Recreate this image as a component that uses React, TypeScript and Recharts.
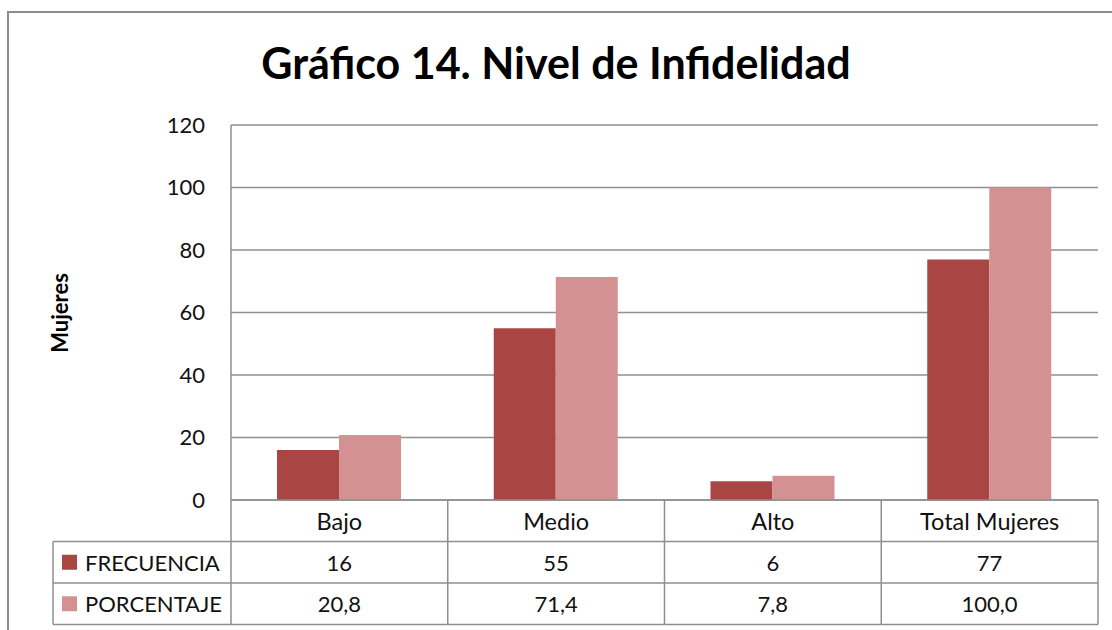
import React from "react";
import { BarChart, Bar, XAxis, YAxis, CartesianGrid } from "recharts";

const categorias = ["Bajo", "Medio", "Alto", "Total Mujeres"];
const frecuencia = [16, 55, 6, 77];
const porcentaje = [20.8, 71.4, 7.8, 100.0];
const yTicks = [0, 20, 40, 60, 80, 100, 120];

const SERIES = [
  { key: "frecuencia", label: "FRECUENCIA", color: "#A94644", fmt: (v: number) => String(v) },
  { key: "porcentaje", label: "PORCENTAJE", color: "#D39291", fmt: (v: number) => v.toFixed(1).replace(".", ",") },
];

const data = categorias.map((name, i) => ({
  name,
  frecuencia: frecuencia[i],
  porcentaje: porcentaje[i],
}));

const FONT = "Lato, 'Noto Sans', sans-serif";
const GRID = "#8f8f8f";
const ROW_H = 41.5;
const LABEL_COL_W = 178;

// each x tick draws its column of the data table under the plot
function TableTick(props: any) {
  const { x, y, payload, index } = props;
  const half = payload?.offset ?? 108.4;
  const left = x - half;
  const right = x + half;
  const row = data[index];
  const line = (x1: number, y1: number, x2: number, y2: number, k: string) => (
    <line key={k} x1={x1} y1={y1} x2={x2} y2={y2} stroke={GRID} strokeWidth={1.5} />
  );
  const txt = { fontFamily: FONT, fontSize: 22, fill: "#111", dominantBaseline: "central" as const };

  return (
    <g>
      {line(right, y, right, y + ROW_H * 3, "r")}
      {line(left, y + ROW_H, right, y + ROW_H, "h1")}
      {line(left, y + ROW_H * 2, right, y + ROW_H * 2, "h2")}
      {line(left, y + ROW_H * 3, right, y + ROW_H * 3, "h3")}
      <text x={x} y={y + ROW_H / 2} textAnchor="middle" {...txt} fontSize={23.5}>{row.name}</text>
      {SERIES.map((s, si) => (
        <text key={s.key} x={x} y={y + ROW_H * (si + 1.5)} textAnchor="middle" {...txt}>
          {s.fmt((row as any)[s.key])}
        </text>
      ))}
      {index === 0 && (
        <g>
          {line(left, y, left, y + ROW_H * 3, "l")}
          {line(left - LABEL_COL_W, y + ROW_H, left - LABEL_COL_W, y + ROW_H * 3, "ll")}
          {line(left - LABEL_COL_W, y + ROW_H, left, y + ROW_H, "lh1")}
          {line(left - LABEL_COL_W, y + ROW_H * 2, left, y + ROW_H * 2, "lh2")}
          {line(left - LABEL_COL_W, y + ROW_H * 3, left, y + ROW_H * 3, "lh3")}
          {SERIES.map((s, si) => {
            const cy = y + ROW_H * (si + 1.5);
            return (
              <g key={s.key}>
                <rect x={left - LABEL_COL_W + 9} y={cy - 7.5} width={15} height={15} fill={s.color} />
                <text x={left - LABEL_COL_W + 32} y={cy} textAnchor="start" {...txt}>{s.label}</text>
              </g>
            );
          })}
        </g>
      )}
    </g>
  );
}

export default function App() {
  return (
    <div style={{ position: "fixed", left: 0, top: 0, width: 1112, height: 630, overflow: "hidden", background: "#fff" }}>
      <div style={{ position: "absolute", left: 7, top: 11, width: 1300, height: 800, border: "2px solid #8c8c8c" }} />
      <div
        style={{
          position: "absolute", left: 0, top: 36, width: 1112, textAlign: "center",
          fontFamily: FONT, fontWeight: 700, fontSize: 43, lineHeight: "54px", color: "#000",
        }}
      >
        Gráfico 14. Nivel de Infidelidad
      </div>
      <div
        style={{
          position: "absolute", left: 59, top: 313, transform: "translate(-50%, -50%) rotate(-90deg)",
          fontFamily: FONT, fontWeight: 700, fontSize: 22, color: "#000", whiteSpace: "nowrap",
        }}
      >
        Mujeres
      </div>
      <div style={{ position: "absolute", left: 0, top: 0 }}>
        <BarChart
          width={1112}
          height={630}
          data={data}
          margin={{ top: 125, right: 14, bottom: 6, left: 171 }}
          barGap={0}
        >
          <CartesianGrid vertical={false} stroke={GRID} strokeWidth={1.5} />
          <XAxis
            dataKey="name"
            axisLine={{ stroke: GRID, strokeWidth: 1.5 }}
            tickLine={false}
            tickSize={0}
            tickMargin={0}
            height={124}
            interval={0}
            tick={<TableTick />}
          />
          <YAxis
            domain={[0, 120]}
            ticks={yTicks}
            width={60}
            axisLine={{ stroke: GRID, strokeWidth: 1.5 }}
            tickLine={false}
            tickSize={0}
            tickMargin={26}
            tick={{ fontFamily: FONT, fontSize: 22, fill: "#111" }}
          />
          {SERIES.map((s) => (
            <Bar key={s.key} dataKey={s.key} fill={s.color} barSize={62} isAnimationActive={false} />
          ))}
        </BarChart>
      </div>
    </div>
  );
}
